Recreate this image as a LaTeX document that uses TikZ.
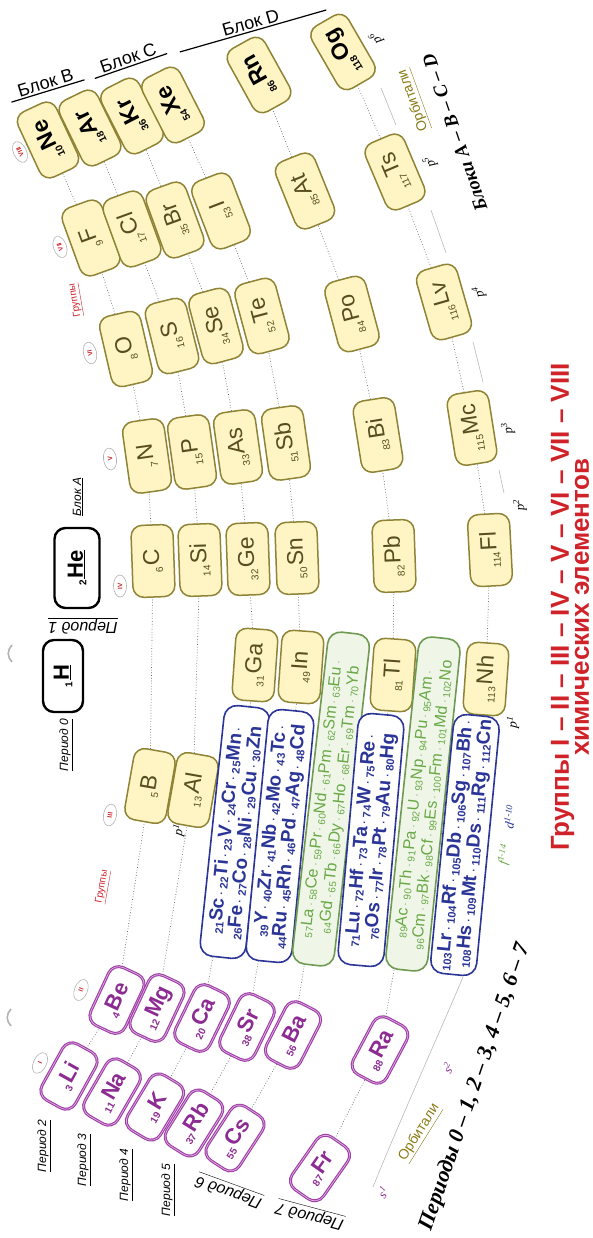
\documentclass[tikz,border=0pt]{standalone}
\usepackage{fontspec}
\setmainfont{Liberation Sans}
\newfontfamily\timesfont{Liberation Serif}
\usetikzlibrary{shapes.geometric}

\definecolor{pfill}{HTML}{FFF5C4}
\definecolor{pline}{HTML}{8F8436}
\definecolor{ptext}{HTML}{564E1E}
\definecolor{sline}{HTML}{A03CA8}
\definecolor{stext}{HTML}{8C2C92}
\definecolor{dline}{HTML}{2B3597}
\definecolor{fline}{HTML}{6F9A52}
\definecolor{ffill}{HTML}{EFF6E8}
\definecolor{ftext}{HTML}{68A845}
\definecolor{grred}{HTML}{CF2229}
\definecolor{orbcol}{HTML}{8A7A14}

\newcommand{\el}[2]{\raisebox{-0.3ex}{\fontsize{10}{10}\selectfont #1}\kern1.5pt#2}
\newcommand{\dn}[2]{\raisebox{-0.2ex}{\fontsize{11}{11}\selectfont #1}#2}
\newcommand{\fn}[2]{\raisebox{-0.2ex}{\fontsize{10}{10}\selectfont #1}#2}
\newcommand{\sepd}{\,{\fontsize{10}{10}\selectfont\textperiodcentered}\,}
\newcommand{\orb}[2]{{\timesfont\itshape #1\textsuperscript{#2}}}

\tikzset{
  elbox/.style={rounded corners=11pt, line width=1.5pt, minimum width=72pt, minimum height=42pt, inner sep=0pt},
  pbox/.style={elbox, draw=pline, fill=pfill, text=ptext, font=\fontsize{23}{23}\selectfont},
  gasbox/.style={pbox, text=black, font=\bfseries\fontsize{23}{23}\selectfont},
  sbox/.style={elbox, minimum width=64pt, minimum height=38pt, draw=sline, line width=1.1pt, double=sline!40, double distance=0.7pt, fill=white, text=stext, font=\bfseries\fontsize{22}{22}\selectfont},
  hbox/.style={elbox, draw=black, line width=2.4pt, fill=white, text=black, font=\bfseries\fontsize{22}{22}\selectfont},
  dstrip/.style={rounded corners=13pt, line width=1.6pt, draw=dline, fill=white, text=dline, minimum width=252pt, minimum height=46pt, inner sep=3pt, align=right, font=\bfseries\fontsize{19}{19}\selectfont},
  fstrip/.style={dstrip, draw=fline, fill=ffill, text=ftext, minimum width=334pt, minimum height=42pt, align=center, font=\fontsize{16}{18}\selectfont},
  grp/.style={ellipse, draw=gray!60, line width=0.6pt, minimum width=22pt, minimum height=13pt, inner sep=0pt, text=grred, font=\bfseries\fontsize{6.5}{6.5}\selectfont},
  per/.style={font=\itshape\fontsize{12}{12}\selectfont, inner sep=1pt},
  bigper/.style={font=\itshape\fontsize{16}{16}\selectfont, inner sep=1pt},
  blk/.style={font=\fontsize{18}{18}\selectfont, inner sep=2pt},
  orbl/.style={font=\fontsize{13}{13}\selectfont, inner sep=0pt},
  orbname/.style={text=orbcol, font=\fontsize{14}{14}\selectfont, inner sep=1pt},
  redlbl/.style={text=grred, font=\fontsize{10}{10}\selectfont, inner sep=1pt},
  link/.style={dotted, line width=0.7pt, black!60},
  orbline/.style={gray!55, line width=0.6pt}
}

\begin{document}
\begin{tikzpicture}[x=1pt,y=-1pt]
\useasboundingbox (0,0) rectangle (592,1238);

% group VIII
\node[gasbox, rotate=115] (Ne) at (48,140) {\el{10}{Ne}};
\node[gasbox, rotate=116] (Ar) at (90,128) {\el{18}{Ar}};
\node[gasbox, rotate=117] (Kr) at (132,116) {\el{36}{Kr}};
\node[gasbox, rotate=117] (Xe) at (173,105) {\el{54}{Xe}};
\node[gasbox, rotate=119] (Rn) at (259,75) {\el{86}{Rn}};
\node[gasbox, rotate=120] (Og) at (343,52) {\el{118}{Og}};
% group VII
\node[pbox, rotate=110] (F) at (91,238) {\el{9}{F}};
\node[pbox, rotate=110] (Cl) at (132,229) {\el{17}{Cl}};
\node[pbox, rotate=110] (Br) at (175,220) {\el{35}{Br}};
\node[pbox, rotate=111] (I) at (221,211) {\el{53}{I}};
\node[pbox, rotate=112] (At) at (305,191) {\el{85}{At}};
\node[pbox, rotate=113] (Ts) at (395,172) {\el{117}{Ts}};
% group VI
\node[pbox, rotate=103] (O) at (126,349) {\el{8}{O}};
\node[pbox, rotate=104] (S) at (172,336) {\el{16}{S}};
\node[pbox, rotate=105] (Se) at (216,326) {\el{34}{Se}};
\node[pbox, rotate=105] (Te) at (262,316) {\el{52}{Te}};
\node[pbox, rotate=105] (Po) at (352,314) {\el{84}{Po}};
\node[pbox, rotate=106] (Lv) at (444,302) {\el{116}{Lv}};
% group V
\node[pbox, rotate=98] (N) at (147,456) {\el{7}{N}};
\node[pbox, rotate=98] (P) at (192,452) {\el{15}{P}};
\node[pbox, rotate=98] (As) at (238,447) {\el{33}{As}};
\node[pbox, rotate=98] (Sb) at (286,443) {\el{51}{Sb}};
\node[pbox, rotate=99] (Bi) at (378,435) {\el{83}{Bi}};
\node[pbox, rotate=99] (Mc) at (472,428) {\el{115}{Mc}};
% group IV
\node[pbox, rotate=92] (C) at (153,561) {\el{6}{C}};
\node[pbox, rotate=92] (Si) at (200,560) {\el{14}{Si}};
\node[pbox, rotate=92] (Ge) at (248,559) {\el{32}{Ge}};
\node[pbox, rotate=92] (Sn) at (297,558) {\el{50}{Sn}};
\node[pbox, rotate=92] (Pb) at (394,556) {\el{82}{Pb}};
\node[pbox, rotate=93] (Fl) at (490,550) {\el{114}{Fl}};
% group III
\node[pbox, rotate=80] (B) at (150,786) {\el{5}{B}};
\node[pbox, rotate=80] (Al) at (193,790) {\el{13}{Al}};
\node[pbox, rotate=86] (Ga) at (255,665) {\el{31}{Ga}};
\node[pbox, rotate=86] (In) at (301,667) {\el{49}{In}};
\node[pbox, rotate=86] (Tl) at (393,675) {\el{81}{Tl}};
\node[pbox, rotate=86] (Nh) at (486,679) {\el{113}{Nh}};
% groups I and II
\node[sbox, rotate=61] (Li) at (69,1076) {\el{3}{Li}};
\node[sbox, rotate=60] (Na) at (112,1092) {\el{11}{Na}};
\node[sbox, rotate=59] (K) at (155,1107) {\el{19}{K}};
\node[sbox, rotate=58] (Rb) at (194,1123) {\el{37}{Rb}};
\node[sbox, rotate=57] (Cs) at (235,1138) {\el{55}{Cs}};
\node[sbox, rotate=55] (Fr) at (320,1168) {\el{87}{Fr}};
\node[sbox, rotate=65] (Be) at (117,1000) {\el{4}{Be}};
\node[sbox, rotate=65] (Mg) at (157,1008) {\el{12}{Mg}};
\node[sbox, rotate=64] (Ca) at (202,1018) {\el{20}{Ca}};
\node[sbox, rotate=64] (Sr) at (247,1027) {\el{38}{Sr}};
\node[sbox, rotate=63] (Ba) at (293,1035) {\el{56}{Ba}};
\node[sbox, rotate=62] (Ra) at (380,1050) {\el{88}{Ra}};
% H and He
\node[hbox, rotate=90, minimum width=80pt, minimum height=45pt] (He) at (77,568) {\el{2}{\underline{He}}};
\node[hbox, rotate=90, minimum height=40pt] (H) at (63,676) {\el{1}{\underline{H}}};

% d and f rows
\node[dstrip, rotate=84] (D4) at (235,832) {\dn{21}{Sc}\sepd\dn{22}{Ti}\sepd\dn{23}{V}\sepd\dn{24}{Cr}\sepd\dn{25}{Mn}\sepd\\\dn{26}{Fe}\sepd\dn{27}{Co}\sepd\dn{28}{Ni}\sepd\dn{29}{Cu}\sepd\dn{30}{Zn}};
\node[dstrip, rotate=84.5] (D5) at (280,836) {\dn{39}{Y}\sepd\dn{40}{Zr}\sepd\dn{41}{Nb}\sepd\dn{42}{Mo}\sepd\dn{43}{Tc}\sepd\\\dn{44}{Ru}\sepd\dn{45}{Rh}\sepd\dn{46}{Pd}\sepd\dn{47}{Ag}\sepd\dn{48}{Cd}};
\node[fstrip, rotate=83.5] (F6) at (331,799) {\fn{57}{La}\sepd\fn{58}{Ce}\sepd\fn{59}{Pr}\sepd\fn{60}{Nd}\sepd\fn{61}{Pm}\sepd\fn{62}{Sm}\sepd\fn{63}{Eu}\sepd\\\fn{64}{Gd}\sepd\fn{65}{Tb}\sepd\fn{66}{Dy}\sepd\fn{67}{Ho}\sepd\fn{68}{Er}\sepd\fn{69}{Tm}\sepd\fn{70}{Yb}};
\node[dstrip, rotate=85] (D6) at (371,840) {\dn{71}{Lu}\sepd\dn{72}{Hf}\sepd\dn{73}{Ta}\sepd\dn{74}{W}\sepd\dn{75}{Re}\sepd\\\dn{76}{Os}\sepd\dn{77}{Ir}\sepd\dn{78}{Pt}\sepd\dn{79}{Au}\sepd\dn{80}{Hg}};
\node[fstrip, rotate=84] (F7) at (423,804) {\fn{89}{Ac}\sepd\fn{90}{Th}\sepd\fn{91}{Pa}\sepd\fn{92}{U}\sepd\fn{93}{Np}\sepd\fn{94}{Pu}\sepd\fn{95}{Am}\sepd\\\fn{96}{Cm}\sepd\fn{97}{Bk}\sepd\fn{98}{Cf}\sepd\fn{99}{Es}\sepd\fn{100}{Fm}\sepd\fn{101}{Md}\sepd\fn{102}{No}};
\node[dstrip, rotate=84.5] (D7) at (465,845) {\dn{103}{Lr}\sepd\dn{104}{Rf}\sepd\dn{105}{Db}\sepd\dn{106}{Sg}\sepd\dn{107}{Bh}\sepd\\\dn{108}{Hs}\sepd\dn{109}{Mt}\sepd\dn{110}{Ds}\sepd\dn{111}{Rg}\sepd\dn{112}{Cn}};

% periods, dotted
\foreach \a/\b in {Li/Be,Be/B,B/C,C/N,N/O,O/F,F/Ne,
  Na/Mg,Mg/Al,Al/Si,Si/P,P/S,S/Cl,Cl/Ar,
  K/Ca,Ca/D4,D4/Ga,Ga/Ge,Ge/As,As/Se,Se/Br,Br/Kr,
  Rb/Sr,Sr/D5,D5/In,In/Sn,Sn/Sb,Sb/Te,Te/I,I/Xe,
  Cs/Ba,Ba/F6,D6/Tl,Tl/Pb,Pb/Bi,Bi/Po,Po/At,At/Rn,
  Fr/Ra,Ra/F7,D7/Nh,Nh/Fl,Fl/Mc,Mc/Lv,Lv/Ts,Ts/Og}
  \draw[link] (\a) -- (\b);

% group marks
\node[grp, rotate=64] (g1) at (40,1063) {I};
\node[grp, rotate=69] (g2) at (81,990) {II};
\node[grp, rotate=80] (g3) at (110,815) {III};
\node[grp, rotate=91] (g4) at (120,586) {IV};
\node[grp, rotate=98] (g5) at (110,459) {V};
\node[grp, rotate=103] (g6) at (90,353) {VI};
\node[grp, rotate=109] (g7) at (60,247) {VII};
\node[grp, rotate=115] (g8) at (20,152) {VIII};
\node[redlbl, rotate=100] (grpA) at (76,300) {\underline{Группы}};
\node[redlbl, rotate=80] (grpB) at (103,887) {\underline{Группы}};

% period labels
\node[per, rotate=90] (per0) at (66,745) {\underline{Период 0}};
\node[bigper, rotate=180] (per1) at (83,626) {\underline{Период 1}};
\node[per, rotate=90] (per2) at (44,1146) {\underline{Период 2}};
\node[per, rotate=90] (per3) at (84,1160) {\underline{Период 3}};
\node[per, rotate=90] (per4) at (126,1175) {\underline{Период 4}};
\node[per, rotate=90] (per5) at (168,1190) {\underline{Период 5}};
\node[bigper, rotate=160] (per6) at (229,1191) {\underline{Период 6}};
\node[bigper, rotate=165] (per7) at (310,1215) {\underline{Период 7}};

% blocks
\node[per, rotate=90] (blkA) at (78,497) {\underline{Блок A}};
\node[blk, rotate=17, anchor=south, minimum width=76pt] (blkB) at (48,91) {Блок B};
\node[blk, rotate=19, anchor=south, minimum width=76pt] (blkC) at (131,66) {Блок C};
\node[blk, rotate=16, anchor=south, minimum width=152pt] (blkD) at (253,31) {Блок D};
\draw[line width=1.2pt] (blkB.south west) -- (blkB.south east);
\draw[line width=1.2pt] (blkC.south west) -- (blkC.south east);
\draw[line width=1.2pt] (blkD.south west) -- (blkD.south east);

% orbitals
\node[orbl, rotate=120] (o6) at (376,38) {\orb{p}{6}};
\node[orbl, rotate=113] (o5) at (430,162) {\orb{p}{5}};
\node[orbl, rotate=106] (o4) at (479,292) {\orb{p}{4}};
\node[orbl, rotate=99] (o3) at (508,428) {\orb{p}{3}};
\node[orbl, rotate=95] (o2) at (520,505) {\orb{p}{2}};
\node[orbl, rotate=85] (o1) at (513,722) {\orb{p}{1}};
\node[orbl, rotate=79] (o1b) at (179,830) {\orb{p}{1}};
\node[orbl, rotate=80, text=dline] (od) at (510,817) {\orb{d}{1-10}};
\node[orbl, rotate=78, text=ftext] (of) at (505,855) {\orb{f}{1-14}};
\node[orbl, rotate=65, text=stext] (os2) at (448,1068) {\orb{s}{2}};
\node[orbl, rotate=57, text=stext] (os1) at (383,1192) {\orb{s}{1}};
\node[orbname, rotate=110] (orbA) at (414,100) {\underline{Орбитали}};
\node[orbname, rotate=58] (orbB) at (420,1133) {\underline{Орбитали}};
\draw[orbline] (381,88) -- (396,125);
\draw[orbline] (431,210) -- (446,253);
\draw[orbline] (473,342) -- (483,382);
\draw[orbline] (499,470) -- (504,493);
\draw[orbline] (373,1187) .. controls (400,1120) and (432,1050) .. (463,977);

% small marks at the left edge
\draw[gray!60, line width=1.6pt] (12,645) .. controls (7,650) and (7,657) .. (12,662);
\draw[gray!60, line width=1.6pt] (11,1009) .. controls (6,1014) and (6,1021) .. (11,1026);

% captions
\node[rotate=109, font=\timesfont\bfseries\itshape\fontsize{19}{19}\selectfont] (blocks) at (455,133) {Блоки A – B – C – D};
\node[rotate=71, font=\timesfont\bfseries\itshape\fontsize{22}{22}\selectfont] (periods) at (475,1087) {Периоды 0 – 1, 2 – 3, 4 – 5, 6 – 7};
\node[rotate=90, align=center, text=grred, font=\bfseries\fontsize{26}{20}\selectfont] (title) at (570,607) {Группы I – II – III – IV – V – VI – VII – VIII\\химических элементов};
\end{tikzpicture}
\end{document}
